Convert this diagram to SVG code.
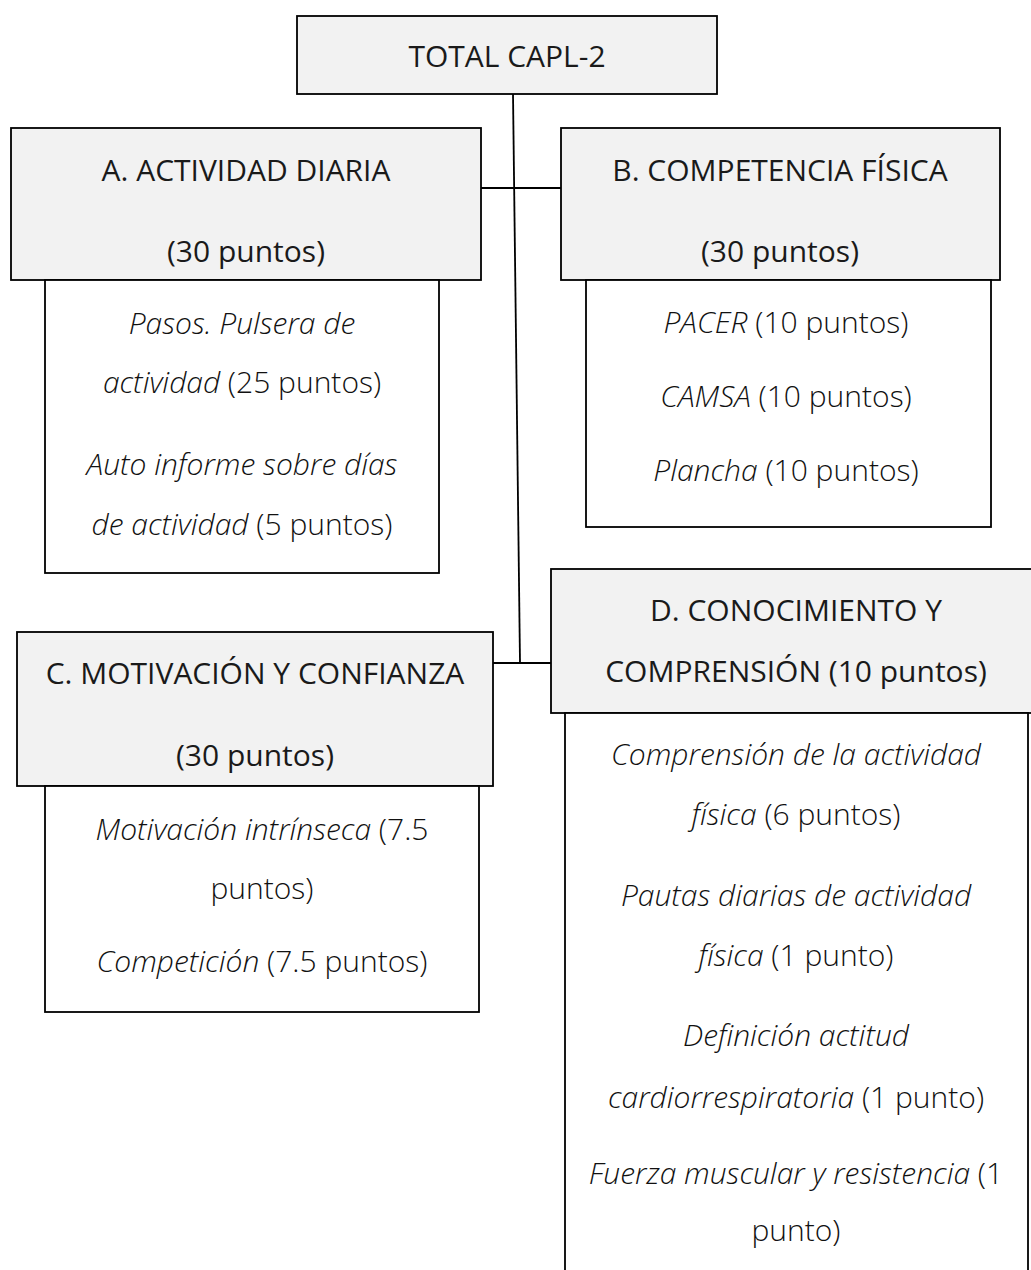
<svg xmlns="http://www.w3.org/2000/svg" width="1031" height="1270" viewBox="0 0 1031 1270">
<style>
.hd{fill:#f2f2f2;stroke:#000;stroke-width:1.8}
.sb{fill:#fff;stroke:#000;stroke-width:1.8}
.ln{stroke:#000;stroke-width:1.8;fill:none}
text{font-family:"Open Sans","Liberation Sans",sans-serif;font-size:30px;fill:#111;text-anchor:middle}
.h{font-weight:400;fill:#1a1a1a}
.s{font-weight:300}
.i{font-style:italic}
</style>
<rect width="1031" height="1270" fill="#fff"/>
<g id="connectors">
<path class="ln" d="M513,94 L520,663"/>
<path class="ln" d="M481,188 L561,188"/>
<path class="ln" d="M493,663 L551,663"/>
</g>
<g id="total">
<rect class="hd" x="297" y="16" width="420" height="78"/>
<text class="h" x="507" y="67">TOTAL CAPL-2</text>
</g>
<g id="a-header">
<rect class="hd" x="11" y="128" width="470" height="152"/>
<text class="h" x="246" y="181">A. ACTIVIDAD DIARIA</text>
<text class="h" x="246" y="262">(30 puntos)</text>
</g>
<g id="a-items">
<rect class="sb" x="45" y="280" width="394" height="293"/>
<text class="s" x="242" y="334"><tspan class="i">Pasos. Pulsera de</tspan></text>
<text class="s" x="242" y="393"><tspan class="i">actividad</tspan> (25 puntos)</text>
<text class="s" x="242" y="475"><tspan class="i">Auto informe sobre días</tspan></text>
<text class="s" x="242" y="535"><tspan class="i">de actividad</tspan> (5 puntos)</text>
</g>
<g id="b-header">
<rect class="hd" x="561" y="128" width="439" height="152"/>
<text class="h" x="780" y="181">B. COMPETENCIA FÍSICA</text>
<text class="h" x="780" y="262">(30 puntos)</text>
</g>
<g id="b-items">
<rect class="sb" x="586" y="280" width="405" height="247"/>
<text class="s" x="786" y="333"><tspan class="i">PACER</tspan> (10 puntos)</text>
<text class="s" x="786" y="407"><tspan class="i">CAMSA</tspan> (10 puntos)</text>
<text class="s" x="786" y="481"><tspan class="i">Plancha</tspan> (10 puntos)</text>
</g>
<g id="c-header">
<rect class="hd" x="17" y="632" width="476" height="154"/>
<text class="h" x="255" y="684">C. MOTIVACIÓN Y CONFIANZA</text>
<text class="h" x="255" y="766">(30 puntos)</text>
</g>
<g id="c-items">
<rect class="sb" x="45" y="786" width="434" height="226"/>
<text class="s" x="262" y="840"><tspan class="i">Motivación intrínseca</tspan> (7.5</text>
<text class="s" x="262" y="899">puntos)</text>
<text class="s" x="262" y="972"><tspan class="i">Competición</tspan> (7.5 puntos)</text>
</g>
<g id="d-header">
<rect class="hd" x="551" y="569" width="481" height="144"/>
<text class="h" x="796" y="621">D. CONOCIMIENTO Y</text>
<text class="h" x="796" y="682">COMPRENSIÓN (10 puntos)</text>
</g>
<g id="d-items">
<rect class="sb" x="565" y="713" width="463" height="570"/>
<text class="s" x="796" y="765"><tspan class="i">Comprensión de la actividad</tspan></text>
<text class="s" x="796" y="825"><tspan class="i">física</tspan> (6 puntos)</text>
<text class="s" x="796" y="906"><tspan class="i">Pautas diarias de actividad</tspan></text>
<text class="s" x="796" y="966"><tspan class="i">física</tspan> (1 punto)</text>
<text class="s" x="796" y="1046"><tspan class="i">Definición actitud</tspan></text>
<text class="s" x="796" y="1108"><tspan class="i">cardiorrespiratoria</tspan> (1 punto)</text>
<text class="s" x="796" y="1184"><tspan class="i">Fuerza muscular y resistencia</tspan> (1</text>
<text class="s" x="796" y="1241">punto)</text>
</g>
</svg>
